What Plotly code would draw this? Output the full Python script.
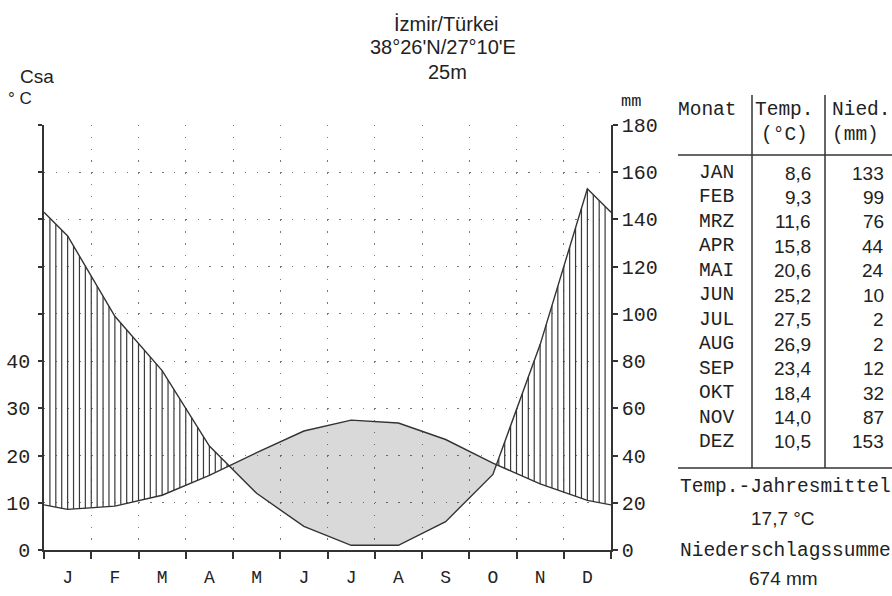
import numpy as np
import plotly.graph_objects as go
from decimal import Decimal, ROUND_HALF_UP

# ---------------- data ----------------
months_short = ["J", "F", "M", "A", "M", "J", "J", "A", "S", "O", "N", "D"]
months_table = ["JAN", "FEB", "MRZ", "APR", "MAI", "JUN", "JUL", "AUG", "SEP", "OKT", "NOV", "DEZ"]
temp_c = [8.6, 9.3, 11.6, 15.8, 20.6, 25.2, 27.5, 26.9, 23.4, 18.4, 14.0, 10.5]
precip_mm = [133, 99, 76, 44, 24, 10, 2, 2, 12, 32, 87, 153]
station = "İzmir/Türkei"
coords = "38°26'N/27°10'E"
elevation = "25m"
climate_class = "Csa"
mm_ticks = [0, 20, 40, 60, 80, 100, 120, 140, 160, 180]
c_ticks = [0, 10, 20, 30, 40, 50, 60, 70, 80, 90]
c_labeled_max = 40

# ---------------- geometry helpers ----------------
W, H = 892, 596
ML, MR, MT, MB = 44, 281, 125, 46
PW, PH = W - ML - MR, H - MT - MB


def px(x):
    return (x - ML) / PW


def py(y):
    return (H - MB - y) / PH


MONO = "Liberation Mono"
SANS = "Liberation Sans"
INK = "#222222"
LINE = "#333333"
DOT = "#777777"
DASH = "1.4px,10.41px"

# curves: vertices at month centres, wrapped to both edges
t_mm = np.array(temp_c) * 2.0  # 10 °C = 20 mm
p = np.array(precip_mm, dtype=float)
xc = np.arange(12) + 0.5
xv = np.concatenate([[0.0], xc, [12.0]])
tv_mm = np.concatenate([[(t_mm[0] + t_mm[-1]) / 2], t_mm, [(t_mm[0] + t_mm[-1]) / 2]])
tv_c = tv_mm / 2.0
pv = np.concatenate([[(p[0] + p[-1]) / 2], p, [(p[0] + p[-1]) / 2]])

# insert crossing points
xs, ts, ps = [], [], []
for i in range(len(xv) - 1):
    xs.append(xv[i]); ts.append(tv_mm[i]); ps.append(pv[i])
    d0 = tv_mm[i] - pv[i]
    d1 = tv_mm[i + 1] - pv[i + 1]
    if d0 * d1 < 0:
        f = d0 / (d0 - d1)
        xx = xv[i] + f * (xv[i + 1] - xv[i])
        yy = pv[i] + f * (pv[i + 1] - pv[i])
        xs.append(xx); ts.append(yy); ps.append(yy)
xs.append(xv[-1]); ts.append(tv_mm[-1]); ps.append(pv[-1])
xs = np.array(xs); ts = np.array(ts); ps = np.array(ps)
upper_arid = np.maximum(ts, ps)

fig = go.Figure()

# arid (grey) area
fig.add_trace(go.Scatter(x=xs, y=ps, mode="lines", line=dict(width=0),
                         hoverinfo="skip", showlegend=False))
fig.add_trace(go.Scatter(x=xs, y=upper_arid, mode="lines", line=dict(width=0),
                         fill="tonexty", fillcolor="rgba(0,0,0,0.15)",
                         hoverinfo="skip", showlegend=False))

# humid hatching
hx, hy = [], []
for k in range(1, 12 * 8):
    x = k / 8
    tt = np.interp(x, xv, tv_mm)
    pp = np.interp(x, xv, pv)
    if pp > tt:
        hx += [x, x, None]
        hy += [tt, pp, None]
fig.add_trace(go.Scatter(x=hx, y=hy, mode="lines", line=dict(color="#3a3a3a", width=1.2),
                         hoverinfo="skip", showlegend=False))

# curves
fig.add_trace(go.Scatter(x=xv, y=pv, mode="lines", line=dict(color=LINE, width=1.4),
                         name="Niederschlag", showlegend=False))
fig.add_trace(go.Scatter(x=xv, y=tv_c, mode="lines", yaxis="y2",
                         line=dict(color=LINE, width=1.4),
                         name="Temperatur", showlegend=False))

fig.update_layout(
    width=W, height=H,
    margin=dict(l=ML, r=MR, t=MT, b=MB, autoexpand=False),
    paper_bgcolor="white", plot_bgcolor="white",
    xaxis=dict(range=[0, 12], tickmode="array", tickvals=list(xc), ticktext=months_short,
               ticks="", showline=True, linecolor=LINE, linewidth=1.5,
               showgrid=False, zeroline=False, ticklabelstandoff=10, automargin=False,
               tickfont=dict(family=MONO, size=18, color=INK),
               minor=dict(tickmode="linear", tick0=0, dtick=1, ticks="outside",
                          ticklen=7, tickwidth=1.5, tickcolor=LINE,
                          showgrid=True, gridcolor=DOT, gridwidth=1.4, griddash=DASH)),
    yaxis=dict(range=[0, 180], side="right", tickmode="array", tickvals=mm_ticks,
               ticktext=[str(v) for v in mm_ticks], ticks="outside", ticklen=5,
               tickwidth=1.5, tickcolor=LINE, showline=True, linecolor=LINE,
               linewidth=1.5, showgrid=True, gridcolor=DOT, gridwidth=1.4,
               griddash=DASH, zeroline=False, automargin=False,
               tickfont=dict(family=MONO, size=20, color=INK)),
    yaxis2=dict(range=[0, 90], overlaying="y", side="left", tickmode="array",
                tickvals=c_ticks,
                ticktext=[str(v) if v <= c_labeled_max else "" for v in c_ticks],
                ticks="outside", ticklen=4, tickwidth=1.5, tickcolor=LINE,
                showline=True, linecolor=LINE, linewidth=1.5, showgrid=False,
                zeroline=False, ticklabelstandoff=4, automargin=False,
                tickfont=dict(family=MONO, size=20, color=INK)),
)

anns = []


def ann(text, x, y, size, family, xanchor="center", color=INK):
    anns.append(dict(text=text, x=px(x), y=py(y), xref="paper", yref="paper",
                     showarrow=False, xanchor=xanchor, yanchor="middle",
                     font=dict(family=family, size=size, color=color)))


# header text
ann(station, 446, 24, 20, SANS)
ann(coords, 443, 47, 20, SANS)
ann(elevation, 447, 72, 20, SANS)
ann(climate_class, 37, 76, 19, SANS)
ann("° C", 20, 98, 17, SANS)
ann("mm", 631, 101, 17, MONO)

# table
ann("Monat", 707, 110, 19.5, MONO)
ann("Temp.", 784, 110, 19.5, MONO)
ann("(°C)", 784, 135, 19.5, MONO)
ann("Nied.", 861, 110, 19.5, MONO)
ann("(mm)", 855, 135, 19.5, MONO)
row0, drow = 173, 24.45
for i, m in enumerate(months_table):
    yy = row0 + i * drow
    ann(m, 736, yy, 19.5, MONO, xanchor="right")
    ann(f"{temp_c[i]:.1f}".replace(".", ","), 813, yy, 19, SANS, xanchor="right")
    ann(str(precip_mm[i]), 886, yy, 19, SANS, xanchor="right")

mean_t = (Decimal(str(round(sum(temp_c), 1))) / Decimal(12)).quantize(Decimal("0.1"), ROUND_HALF_UP)
sum_p = sum(precip_mm)
ann("Temp.-Jahresmittel", 785, 487, 19.5, MONO)
ann(f"{mean_t}".replace(".", ",") + " °C", 783, 518, 19, SANS)
ann("Niederschlagssumme", 785, 551, 19.5, MONO)
ann(f"{sum_p} mm", 783, 578, 19, SANS)

fig.update_layout(annotations=anns)

shapes = []
for (x0, y0, x1, y1) in [(752, 95, 752, 468), (825, 95, 825, 468),
                         (678, 155, 892, 155), (678, 468, 892, 468)]:
    shapes.append(dict(type="line", xref="paper", yref="paper",
                       x0=px(x0), y0=py(y0), x1=px(x1), y1=py(y1),
                       line=dict(color=LINE, width=1.5)))
fig.update_layout(shapes=shapes)

fig.write_html("out.html", config={"displayModeBar": False},
               post_script="document.body.style.margin='0';document.body.style.overflow='hidden';")
